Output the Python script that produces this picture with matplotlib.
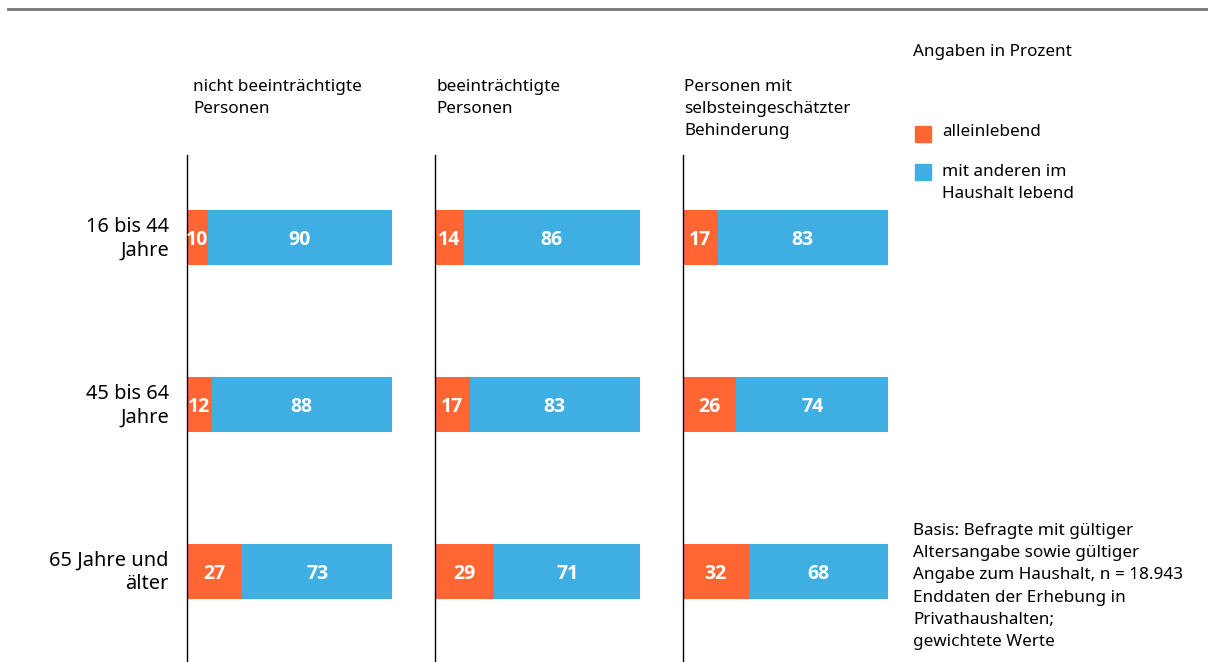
import matplotlib.pyplot as plt
from matplotlib.lines import Line2D
from matplotlib.patches import Rectangle
from matplotlib.transforms import ScaledTranslation

plt.rcParams['font.family'] = ['Noto Sans', 'DejaVu Sans']

panels = ["nicht beeinträchtigte\nPersonen",
          "beeinträchtigte\nPersonen",
          "Personen mit\nselbsteingeschätzter\nBehinderung"]
age_groups = ["16 bis 44\nJahre", "45 bis 64\nJahre", "65 Jahre und\nälter"]
alone = [[10, 12, 27], [14, 17, 29], [17, 26, 32]]
others = [[90, 88, 73], [86, 83, 71], [83, 74, 68]]
legend_labels = ["alleinlebend", "mit anderen im\nHaushalt lebend"]
note = ("Basis: Befragte mit gültiger\nAltersangabe sowie gültiger\n"
        "Angabe zum Haushalt, n = 18.943\nEnddaten der Erhebung in\n"
        "Privathaushalten;\ngewichtete Werte")

ORANGE = "#ff6633"
BLUE = "#3faee3"
W, H = 1208, 662
FS = 12.3
LS = 1.48

fig = plt.figure(figsize=(W / 100, H / 100), dpi=100)


def fx(px):
    return px / W


def fy(py):
    return 1 - py / H


# linie oben
fig.add_artist(Line2D([fx(8), 1], [fy(9), fy(9)], color="#777777", lw=2))

lefts = [187, 435, 683]
for i, left in enumerate(lefts):
    ax = fig.add_axes([fx(left), fy(662), fx(205), (662 - 155) / H])
    y = range(len(age_groups))
    ax.barh(y, alone[i], height=0.33, color=ORANGE)
    ax.barh(y, others[i], left=alone[i], height=0.33, color=BLUE)
    for j in y:
        ax.text(alone[i][j] / 2, j, str(alone[i][j]), color="white",
                fontsize=14, fontweight="bold", family="Open Sans",
                ha="center", va="center_baseline")
        ax.text(alone[i][j] + others[i][j] / 2, j, str(others[i][j]),
                color="white", fontsize=14, fontweight="bold",
                family="Open Sans", ha="center", va="center_baseline")
    ax.set_xlim(0, 100)
    ax.set_ylim(2.542, -0.494)
    for s in ["top", "right", "bottom"]:
        ax.spines[s].set_visible(False)
    ax.spines["left"].set_linewidth(1.0)
    ax.set_xticks([])
    if i == 0:
        ax.set_yticks(list(y))
        ax.set_yticklabels(age_groups, fontsize=14.4, linespacing=1.22)
        ax.tick_params(axis="y", length=0, pad=13)
        # etwas nach oben schieben
        off = ScaledTranslation(0, 3 / 100, fig.dpi_scale_trans)
        for lab in ax.get_yticklabels():
            lab.set_transform(lab.get_transform() + off)
    else:
        ax.set_yticks([])
    fig.text(fx(left + (6 if i == 0 else 1)), fy(79), panels[i],
             fontsize=FS, va="top", ha="left", linespacing=LS)

# legende
fig.text(fx(913), fy(52), "Angaben in Prozent", fontsize=FS, va="center")
fig.add_artist(Rectangle((fx(915), fy(142)), fx(16), 16 / H,
                         color=ORANGE, transform=fig.transFigure))
fig.text(fx(942), fy(132), legend_labels[0], fontsize=FS, va="center")
fig.add_artist(Rectangle((fx(915), fy(180)), fx(16), 16 / H,
                         color=BLUE, transform=fig.transFigure))
fig.text(fx(942), fy(164), legend_labels[1], fontsize=FS, va="top",
         linespacing=LS)

fig.text(fx(913), fy(523), note, fontsize=FS, va="top", linespacing=1.52)

fig.savefig("out.png", dpi=100)
